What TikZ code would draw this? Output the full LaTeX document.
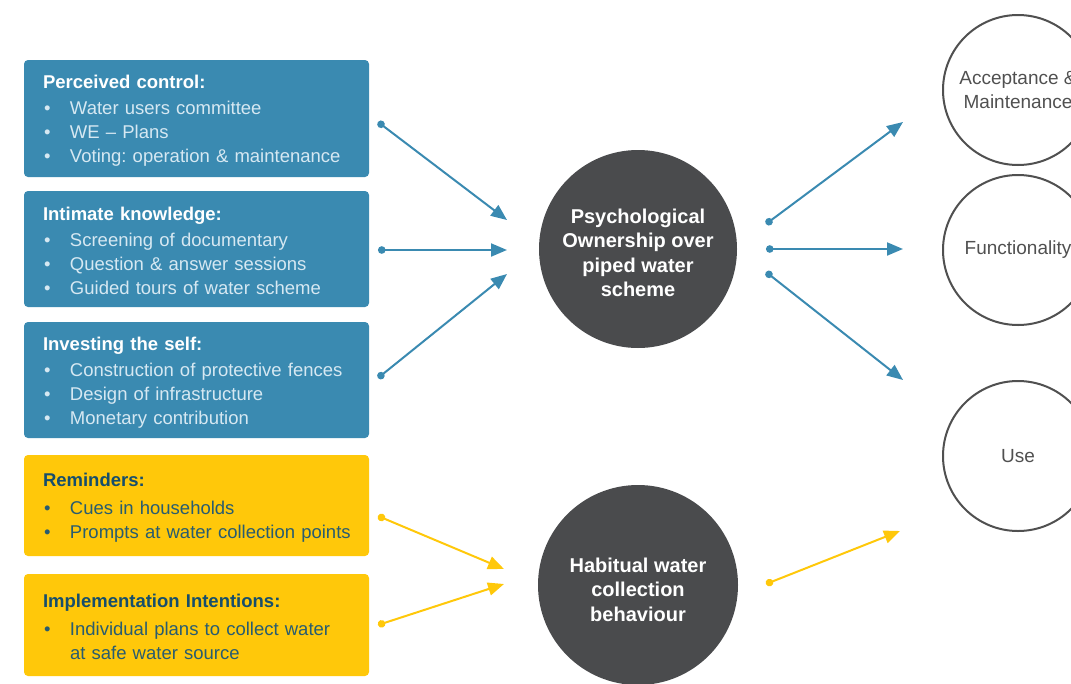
\documentclass[tikz,border=0pt]{standalone}
\usepackage{fontspec}
\setmainfont{Liberation Sans}
\usetikzlibrary{arrows.meta}
\usetikzlibrary{positioning}
\definecolor{ownblue}{RGB}{58,138,177}
\definecolor{paleblue}{RGB}{214,232,242}
\definecolor{habyellow}{RGB}{255,200,10}
\definecolor{habtitle}{RGB}{22,78,108}
\definecolor{habtext}{RGB}{40,92,112}
\definecolor{hubgray}{RGB}{74,75,77}
\definecolor{ringgray}{RGB}{80,80,80}
\newcommand{\bul}{\makebox[27pt][l]{\hspace{1pt}\textbullet}}
\tikzset{
    factor/.style={rectangle, rounded corners=4pt, minimum width=345pt, text width=307pt,
        inner xsep=19pt, inner ysep=0pt, outer sep=0pt, align=left,
        font=\fontsize{18.5}{24}\selectfont\frenchspacing},
    bluefactor/.style={factor, fill=ownblue, text=paleblue},
    yellowfactor/.style={factor, fill=habyellow, text=habtext},
    hub/.style={circle, fill=hubgray, minimum size=198pt, inner sep=0pt, text=white,
        align=center, font=\fontsize{20}{24.3}\selectfont\bfseries},
    outcome/.style={circle, draw=ringgray, line width=2pt, minimum size=150pt, inner sep=0pt,
        text=ringgray, align=center, font=\fontsize{19}{24}\selectfont},
    link/.style={draw=#1, line width=2pt, {Circle[length=7.5pt]}-{Triangle[length=16pt,width=13pt]}},
}
\begin{document}
\begin{tikzpicture}[x=1pt, y=-1pt]
    \clip (0,0) rectangle (1071,683);
    % interventions
    \node[bluefactor, minimum height=117pt, anchor=north west] (pc) at (24,60)
        {\rule{0pt}{18pt}{\bfseries\color{white}Perceived control:}\\[2pt]
         \bul Water users committee\\ \bul WE -- Plans\\ \bul Voting: operation \& maintenance};
    \node[bluefactor, minimum height=116pt, below=14pt of pc] (ik)
        {\rule{0pt}{18pt}{\bfseries\color{white}Intimate knowledge:}\\[2pt]
         \bul Screening of documentary\\ \bul Question \& answer sessions\\ \bul Guided tours of water scheme};
    \node[bluefactor, minimum height=116pt, below=15pt of ik] (is)
        {\rule{0pt}{18pt}{\bfseries\color{white}Investing the self:}\\[2pt]
         \bul Construction of protective fences\\ \bul Design of infrastructure\\ \bul Monetary contribution};
    \node[yellowfactor, minimum height=101pt, below=17pt of is] (rem)
        {\rule{0pt}{18pt}{\bfseries\color{habtitle}Reminders:}\\[4pt]
         \bul Cues in households\\ \mbox{\bul Prompts at water collection points}};
    \node[yellowfactor, minimum height=102pt, below=18pt of rem] (imp)
        {\rule{0pt}{18pt}{\bfseries\color{habtitle}Implementation Intentions:}\\[4pt]
         \bul Individual plans to collect water\\ \hspace*{27pt}at safe water source};
    % mediators and outcomes
    \node[hub] (own) at (638,249) {\rule{0pt}{22pt}Psychological\\Ownership over\\piped water\\scheme};
    \node[hub, minimum size=200pt] (habit) at (638,585) {\rule{0pt}{24pt}Habitual water\\collection\\behaviour};
    \node[outcome] (acc) at (1018,90) {Acceptance \&\\Maintenance};
    \node[outcome] (func) at (1018,250) {Functionality};
    \node[outcome] (use) at (1018,456) {Use};
    %
    \coordinate (pc-dot) at (378,122);
    \coordinate (ik-dot) at (378,250);
    \coordinate (is-dot) at (378,378);
    \coordinate (rem-dot) at (378,516);
    \coordinate (imp-dot) at (378,625);
    \coordinate (own-in1) at (507,220);
    \coordinate (own-in2) at (507,250);
    \coordinate (own-in3) at (507,274);
    \coordinate (own-out1) at (766,224);
    \coordinate (own-out2) at (766,249);
    \coordinate (own-out3) at (766,272);
    \coordinate (habit-in1) at (504,569);
    \coordinate (habit-in2) at (504,584);
    \coordinate (habit-out) at (766,584);
    \coordinate (acc-in) at (903,122);
    \coordinate (func-in) at (903,249);
    \coordinate (use-in1) at (903,380);
    \coordinate (use-in2) at (900,531);
    %
    \draw[link=ownblue] (pc-dot) -- (own-in1);
    \draw[link=ownblue] (ik-dot) -- (own-in2);
    \draw[link=ownblue] (is-dot) -- (own-in3);
    \draw[link=ownblue] (own-out1) -- (acc-in);
    \draw[link=ownblue] (own-out2) -- (func-in);
    \draw[link=ownblue] (own-out3) -- (use-in1);
    %
    \draw[link=habyellow] (rem-dot) -- (habit-in1);
    \draw[link=habyellow] (imp-dot) -- (habit-in2);
    \draw[link=habyellow] (habit-out) -- (use-in2);
\end{tikzpicture}
\end{document}
